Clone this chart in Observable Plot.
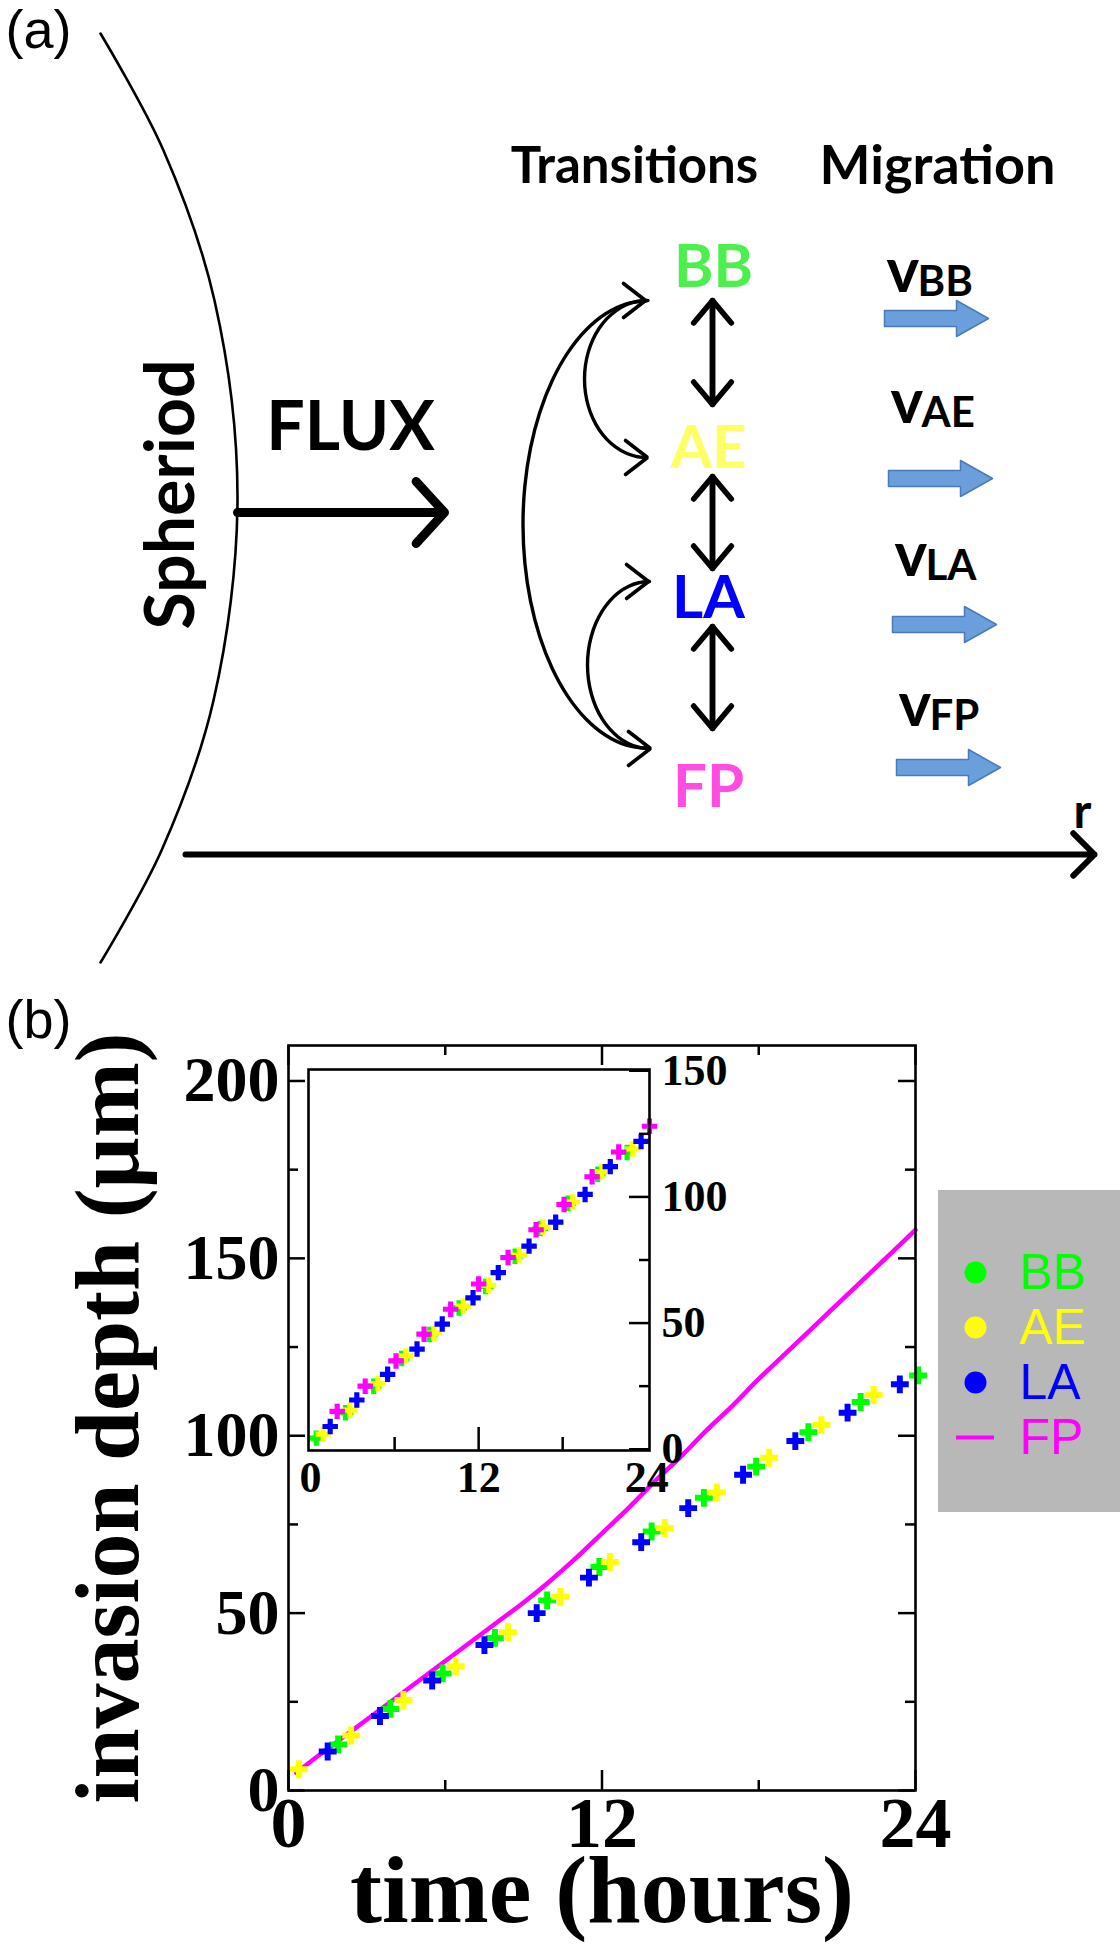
<!DOCTYPE html>
<html><head><meta charset="utf-8">
<script src="https://cdn.jsdelivr.net/npm/d3@7"></script>
<script src="https://cdn.jsdelivr.net/npm/@observablehq/plot@0.6"></script>
<style>
html,body{margin:0;padding:0;background:#fff;}
#fig{position:relative;width:1120px;height:1950px;overflow:hidden;background:#fff;}
#fig > svg{position:absolute;}
</style></head><body><div id="fig"></div>
<script>
// ---------- data ----------
const states = ["BB", "AE", "LA", "FP"];
const seriesColors = ["#00ff00", "#ffff00", "#0000ff", "#ff00ff"];
const stateTextColors = ["#4cf04c", "#ffff66", "#0000ff", "#ff4de1"];
const migrationLabels = ["BB", "AE", "LA", "FP"];

// main panel (b): invasion depth (um) vs time (hours)
const fpTime  = [0.3,1,2,3,4,5,6,7,8,9,10,11,12,13,14,15,16,17,18,19,20,21,22,23,24];
const fpDepth = [5,9,14.5,20,25.5,31,36.5,42,47.5,53,59,65.5,72.5,79.5,87,94,101.5,108.5,116,123,130,137,144,151,158];
const bbTime  = [1.9,3.9,5.9,7.9,9.9,11.9,13.9,15.9,17.9,19.9,21.9,24.1];
const bbDepth = [13,23,33,43,53.6,63,73,82.5,91.3,101,109.5,117];
const aeTime  = [0.4,2.4,4.4,6.4,8.4,10.4,12.3,14.4,16.4,18.4,20.4,22.4];
const aeDepth = [6,15.5,25.5,35,44.6,54.6,64.4,74,84,93.8,103,111.5];
const laTime  = [1.5,3.5,5.5,7.5,9.5,11.5,13.5,15.3,17.4,19.4,21.4,23.4];
const laDepth = [11,21,31,41,50,60,70,79.6,89,98.5,106.5,114.5];

// inset
const inBBTime  = [0.4,2.5,4.5,6.5,8.5,10.6,12.5,14.6,16.4,18.4,20.5,22.6];
const inBBDepth = [4.4,14.5,25,36,45.5,56,64.5,76.5,87.5,97.5,109,117.6];
const inAETime  = [0.9,2.8,4.8,6.8,8.8,10.9,12.7,14.9,16.6,18.7,20.8,23];
const inAEDepth = [6,15.5,26,37,46,56.7,65,77,88,98,110,119];
const inLATime  = [1.4,3.3,5.5,7.6,9.4,11.6,13.4,15.6,17.5,19.6,21.4,23.6];
const inLADepth = [9,19.5,29.7,39.7,49.6,60,70,80.5,90,101,112,122];
const inFPTime  = [1.9,3.9,6.1,8.1,10,12,14.1,16.1,18.1,20.1,22,24.2];
const inFPDepth = [15,25,35,45.6,55.5,65.5,76,87,97,108,117.8,128];

// ticks
const yMajorTicks = [0,50,100,150,200];
const yMinorTicks = [25,75,125,175];
const xMajorTicks = [0,12,24];
const xMinorTicks = [6,18];
const insetYMajorTicks = [0,50,100,150];
const insetYMinorTicks = [25,75,125];
const insetXTicks = [0,12,24];

// ---------- helpers ----------
const zip = (series, ts, ds) => ts.map((t, i) => ({series, t, d: ds[i]}));
const fpRows = zip("FP", fpTime, fpDepth);
const mainPoints = [...zip("BB", bbTime, bbDepth), ...zip("AE", aeTime, aeDepth), ...zip("LA", laTime, laDepth)];
const insetPoints = [...zip("BB", inBBTime, inBBDepth), ...zip("AE", inAETime, inAEDepth),
                     ...zip("LA", inLATime, inLADepth), ...zip("FP", inFPTime, inFPDepth)];

const fig = document.getElementById("fig");
function place(svg, left, top) { svg.style.left = left + "px"; svg.style.top = top + "px"; fig.appendChild(svg); }

const SERIF = "Liberation Serif", SANS = "Liberation Sans", CAL = "Lato";

// ---------- panel (a) schematic layout ----------
const diagram = {
  arc: [[100,33],[163,150],[214,300],[237,497],[213,700],[161,850],[100,962]],
  panelLabels: [{s:"(a)", x:38, y:30}, {s:"(b)", x:38, y:1020}],
  boldTexts: [
    {s:"FLUX", x:350, y:428, size:68},
    {s:"Transitions", x:634, y:166, size:51},
    {s:"Migration", x:937, y:166, size:54},
    {s:"r", x:1082, y:812, size:48}
  ],
  spheroid: {x:172, y:494},
  statePos: [[713,267],[708,448],[708,598],[708,787]],
  fluxArrow: [237,512,444,512],
  rAxis: [185,854,1094,854],
  doubleArrows: [[712,300,404],[712,476,568],[712,626,728]],
  tips: {BB:[645,300], AE:[647,457], LA:[648,581], FP:[650,748]},
  // curved transitions: [from, to, horizontal reach to the left]
  loops: [["BB","FP",125],["BB","AE",62],["LA","FP",62]],
  migration: [[884,318],[888,478],[892,624],[896,767]],
  vCenters: [272, 403, 556, 706]
};

// half-ellipse loops with horizontal ends, and chevron heads at each tip
const loopRows = [];
diagram.loops.forEach(([a, b, reach], k) => {
  const A = diagram.tips[a], B = diagram.tips[b];
  const cx = (A[0] + B[0]) / 2, cy = (A[1] + B[1]) / 2, ry = (B[1] - A[1]) / 2;
  for (let deg = -90; deg <= 90; deg += 10) {
    const th = deg * Math.PI / 180;
    loopRows.push({k, x: cx - reach * Math.cos(th), y: cy + ry * Math.sin(th)});
  }
});
const headRows = [];
Object.values(diagram.tips).forEach(([tx, ty], k) => {
  [[-22,-17],[0,0],[-22,17]].forEach(([dx, dy]) => headRows.push({k, x: tx + dx, y: ty + dy}));
});
const dbl = [];
for (const [x, y1, y2] of diagram.doubleArrows) {
  dbl.push({x1:x, y1:y1, x2:x, y2:y2});
  dbl.push({x1:x, y1:y2, x2:x, y2:y1});
}
const blockPoly = [];
diagram.migration.forEach(([x0, y], i) => {
  const pts = [[0,-8],[72,-8],[72,-18],[104,0],[72,18],[72,8],[0,8],[0,-8]];
  pts.forEach(([dx, dy]) => blockPoly.push({k:i, x:x0+dx, y:y+dy}));
});
const vLabels = diagram.migration.map(([x0], i) => ({x:x0+2, y:diagram.vCenters[i], sub:migrationLabels[i], sx:x0+33, sy:diagram.vCenters[i]+10}));

const schematic = Plot.plot({
  width: 1120, height: 1950, margin: 0,
  x: {domain: [0, 1120], range: [0, 1120], axis: null},
  y: {domain: [0, 1950], range: [0, 1950], axis: null},
  style: {background: "transparent", overflow: "visible"},
  marks: [
    Plot.line(diagram.arc, {x: d => d[0], y: d => d[1], curve: "catmull-rom", stroke: "#000", strokeWidth: 2.6}),
    Plot.text(["Spheriod"], {x: diagram.spheroid.x, y: diagram.spheroid.y, text: d => d, rotate: -90, textAnchor: "middle",
      fontSize: 68, fontWeight: "bold", fontFamily: CAL, fill: "#000"}),
    Plot.text(diagram.panelLabels, {x: "x", y: "y", text: "s", fontSize: 54, fontFamily: SANS, fill: "#000"}),
    Plot.text(diagram.boldTexts, {x: "x", y: "y", text: "s", fontSize: "size", fontWeight: "bold", fontFamily: CAL, fill: "#000"}),
    Plot.text(states, {x: (d, i) => diagram.statePos[i][0], y: (d, i) => diagram.statePos[i][1], text: d => d,
      fill: (d, i) => stateTextColors[i], fontSize: 60, fontWeight: "bold", fontFamily: CAL}),
    Plot.arrow([diagram.fluxArrow], {x1: d => d[0], y1: d => d[1], x2: d => d[2], y2: d => d[3], stroke: "#000", strokeWidth: 9, headLength: 7, headAngle: 95}),
    Plot.arrow([diagram.rAxis], {x1: d => d[0], y1: d => d[1], x2: d => d[2], y2: d => d[3], stroke: "#000", strokeWidth: 6, headLength: 7.5, headAngle: 90}),
    Plot.arrow(dbl, {x1: "x1", y1: "y1", x2: "x2", y2: "y2", stroke: "#000", strokeWidth: 5.5, headLength: 8, headAngle: 80}),
    Plot.line(loopRows, {x: "x", y: "y", z: "k", curve: "catmull-rom", stroke: "#000", strokeWidth: 3.4}),
    Plot.line(headRows, {x: "x", y: "y", z: "k", stroke: "#000", strokeWidth: 3.6, strokeLinejoin: "miter", strokeLinecap: "round"}),
    Plot.line(blockPoly, {x: "x", y: "y", z: "k", fill: "#6b9fdc", stroke: "#4a7ab8", strokeWidth: 1.5, curve: "linear"}),
    Plot.text(vLabels, {x: "x", y: "y", text: () => "v", textAnchor: "start", fontSize: 62, fontWeight: "bold", fontFamily: CAL, fill: "#000"}),
    Plot.text(vLabels, {x: "sx", y: "sy", text: "sub", textAnchor: "start", fontSize: 42, fontWeight: "bold", fontFamily: CAL, fill: "#000"})
  ]
});
place(schematic, 0, 0);

// ---------- panel (b) main plot ----------
const mW = 1120, mH = 970, mL = 288, mR = 205, mT = 65, mB = 160;
const fW = mW - mL - mR, fH = mH - mT - mB;
const tickStyle = {stroke: "#000", strokeWidth: 2.5};
const main = Plot.plot({
  width: mW, height: mH, marginLeft: mL, marginRight: mR, marginTop: mT, marginBottom: mB,
  x: {domain: [0, 24], axis: null},
  y: {domain: [0, 210], axis: null},
  color: {domain: states, range: seriesColors},
  style: {background: "transparent", overflow: "visible"},
  marks: [
    Plot.line(fpRows, {x: "t", y: "d", curve: "monotone-x", stroke: "#ff00ff", strokeWidth: 4.5}),
    Plot.dot(mainPoints, {x: "t", y: "d", fill: "series", symbol: "cross", r: 7.5, stroke: null}),
    Plot.frame({stroke: "#000", strokeWidth: 2.6}),
    Plot.tickY(yMajorTicks, {y: d => d, insetRight: fW - 17, ...tickStyle}),
    Plot.tickY(yMinorTicks, {y: d => d, insetRight: fW - 10, ...tickStyle}),
    Plot.tickY(yMajorTicks, {y: d => d, insetLeft: fW - 17, ...tickStyle}),
    Plot.tickY(yMinorTicks, {y: d => d, insetLeft: fW - 10, ...tickStyle}),
    Plot.tickX(xMajorTicks, {x: d => d, insetBottom: fH - 20, ...tickStyle}),
    Plot.tickX(xMinorTicks, {x: d => d, insetBottom: fH - 10, ...tickStyle}),
    Plot.tickX(xMajorTicks, {x: d => d, insetTop: fH - 20, ...tickStyle}),
    Plot.tickX(xMinorTicks, {x: d => d, insetTop: fH - 10, ...tickStyle}),
    Plot.text(yMajorTicks, {y: d => d, text: d => `${d}`, frameAnchor: "left", textAnchor: "end", dx: -9,
      fontSize: 64, fontWeight: "bold", fontFamily: SERIF, fill: "#000"}),
    Plot.text(xMajorTicks, {x: d => d, text: d => `${d}`, frameAnchor: "bottom", textAnchor: "middle", lineAnchor: "top", dy: 5,
      fontSize: 72, fontWeight: "bold", fontFamily: SERIF, fill: "#000"}),
    Plot.text(["invasion depth (\u03bcm)"], {text: d => d, frameAnchor: "left", textAnchor: "middle", rotate: -90, dx: -179, dy: 0,
      fontSize: 90, fontWeight: "bold", fontFamily: SERIF, fill: "#000"}),
    Plot.text(["time (hours)"], {text: d => d, frameAnchor: "bottom", textAnchor: "middle", lineAnchor: "top", dy: 63,
      fontSize: 96, fontWeight: "bold", fontFamily: SERIF, fill: "#000"})
  ]
});
place(main, 0, 980);

// ---------- inset ----------
const iL = 308, iR = 1120 - 649, iT = 89, iB = 970 - 470;
const iW = 1120 - iL - iR, iH = 970 - iT - iB;
const inset = Plot.plot({
  width: 1120, height: 970, marginLeft: iL, marginRight: iR, marginTop: iT, marginBottom: iB,
  x: {domain: [-0.15, 24.2], axis: null},
  y: {domain: [-0.5, 150.5], axis: null},
  color: {domain: states, range: seriesColors},
  style: {background: "transparent", overflow: "visible"},
  marks: [
    Plot.dot(insetPoints, {x: "t", y: "d", fill: "series", symbol: "cross", r: 6.5, stroke: null}),
    Plot.frame({stroke: "#000", strokeWidth: 2.6}),
    Plot.tickY(insetYMajorTicks, {y: d => d, insetLeft: iW - 20, ...tickStyle}),
    Plot.tickY(insetYMinorTicks, {y: d => d, insetLeft: iW - 10, ...tickStyle}),
    Plot.tickX([12], {x: d => d, insetTop: iH - 23, ...tickStyle}),
    Plot.tickX([6, 18], {x: d => d, insetTop: iH - 13, ...tickStyle}),
    Plot.text(insetYMajorTicks, {y: d => d, text: d => `${d}`, frameAnchor: "right", textAnchor: "start", dx: 12,
      fontSize: 44, fontWeight: "bold", fontFamily: SERIF, fill: "#000"}),
    Plot.text(insetXTicks, {x: d => d, text: d => `${d}`, frameAnchor: "bottom", textAnchor: "middle", lineAnchor: "top", dy: 10,
      fontSize: 44, fontWeight: "bold", fontFamily: SERIF, fill: "#000"})
  ]
});
place(inset, 0, 980);

// ---------- legend ----------
const legend = Plot.plot({
  width: 182, height: 322, margin: 0,
  y: {type: "point", domain: states, range: [54, 274], axis: null},
  color: {domain: states, range: seriesColors},
  style: {background: "#b8b8b8", overflow: "visible"},
  marks: [
    Plot.dot(states.filter(s => s !== "FP"), {y: d => d, frameAnchor: "left", dx: 37, r: 11, fill: d => d, stroke: null}),
    Plot.tickY(["FP"], {y: d => d, insetLeft: 18, insetRight: 182 - 56, stroke: d => d, strokeWidth: 4}),
    Plot.text(states, {y: d => d, text: d => d, frameAnchor: "left", dx: 81, textAnchor: "start", fill: d => d,
      fontSize: 50, fontFamily: SANS})
  ]
});
place(legend, 938, 1190);
</script></body></html>
